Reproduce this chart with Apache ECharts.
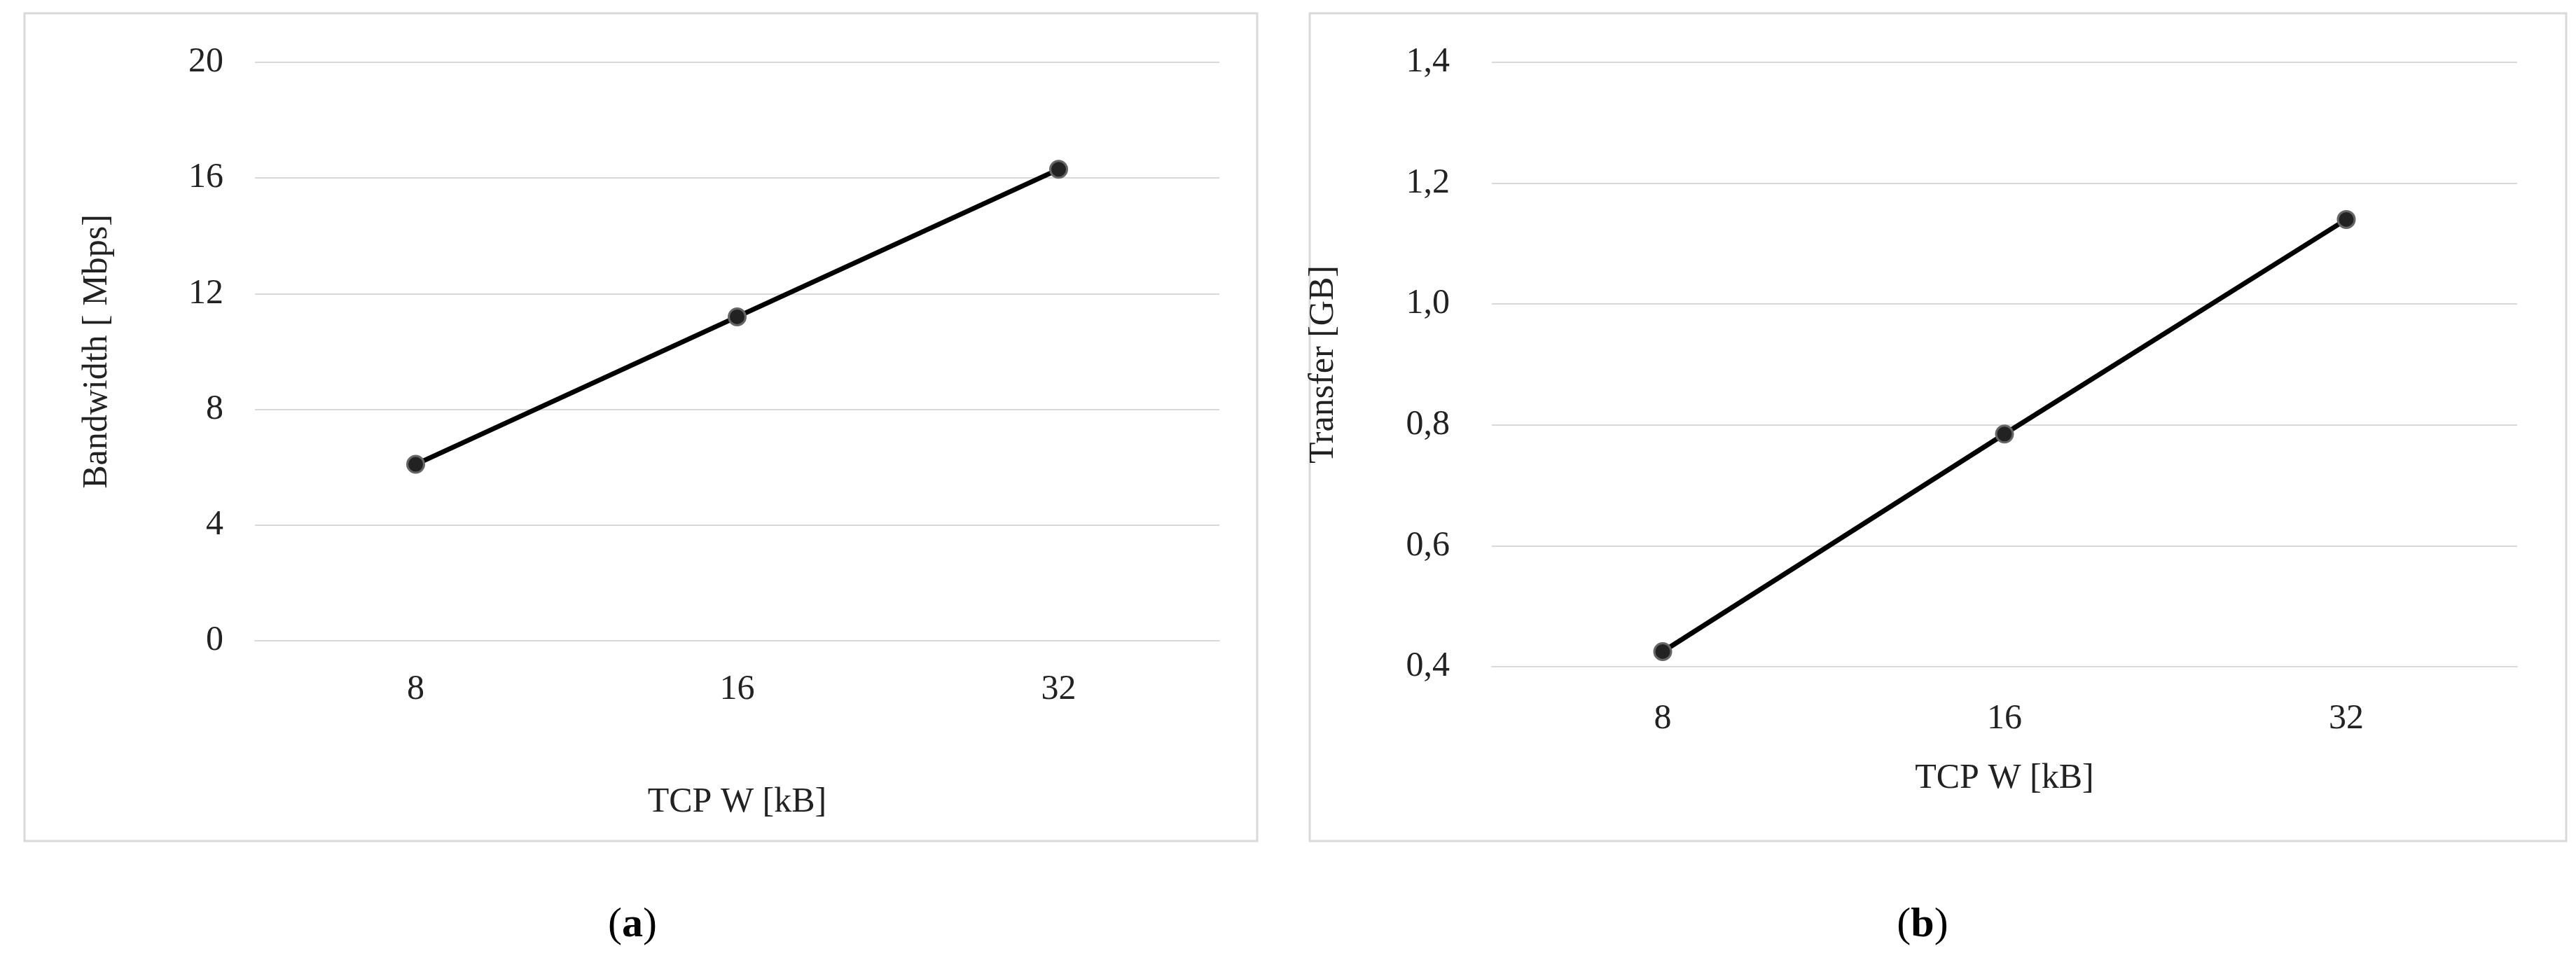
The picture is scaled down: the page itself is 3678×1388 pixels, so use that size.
<!DOCTYPE html>
<html>
<head>
<meta charset="utf-8">
<style>html,body{margin:0;padding:0;background:#fff}#chart{width:3678px;height:1388px}</style>
<script src="https://cdn.jsdelivr.net/npm/echarts@6/dist/echarts.min.js"></script>
</head>
<body>
<div id="chart"></div>
<script>
var categories = ['8', '16', '32'];
var bandwidth = [6.1, 11.2, 16.3];
var transfer = [0.425, 0.785, 1.14];

var font = 'Liberation Serif';
var txt = {fontFamily: font, fontSize: 50, color: '#222'};
var chart = echarts.init(document.getElementById('chart'));

function xAxis(i, gap, margin) {
  return {
    type: 'category', gridIndex: i, data: categories,
    name: 'TCP W [kB]', nameLocation: 'middle', nameGap: gap, nameTextStyle: txt,
    axisLine: {lineStyle: {color: '#d9d9d9', width: 2}}, axisTick: {show: false},
    axisLabel: Object.assign({margin: margin}, txt)
  };
}
function yAxis(i, name, min, max, step, gap, margin, fmt) {
  return {
    type: 'value', gridIndex: i, min: min, max: max, interval: step,
    name: name, nameLocation: 'middle', nameGap: gap, nameTextStyle: txt,
    axisLine: {show: false}, axisTick: {show: false},
    splitLine: {lineStyle: {color: '#d9d9d9', width: 2}},
    axisLabel: Object.assign({margin: margin, formatter: fmt}, txt)
  };
}
function series(i, data) {
  return {
    type: 'line', xAxisIndex: i, yAxisIndex: i, data: data,
    lineStyle: {color: '#000', width: 7}, symbol: 'circle', symbolSize: 24,
    itemStyle: {color: '#222', borderColor: '#666', borderWidth: 3}, silent: true
  };
}
function caption(x, letter) {
  return {type: 'text', x: x, y: 1321, style: {
    text: '({b|' + letter + '})', fontFamily: font, fontSize: 60, fill: '#000',
    align: 'center', verticalAlign: 'middle',
    rich: {b: {fontFamily: font, fontSize: 60, fontWeight: 'bold', fill: '#000'}}
  }};
}

chart.setOption({
  animation: false,
  grid: [
    {left: 364, right: 3678 - 1741, top: 89, bottom: 1388 - 915},
    {left: 2130, right: 3678 - 3594, top: 89, bottom: 1388 - 952}
  ],
  xAxis: [xAxis(0, 206, 45), xAxis(1, 135, 50)],
  yAxis: [
    yAxis(0, 'Bandwidth [ Mbps]', 0, 20, 4, 200, 45, function (v) { return v; }),
    yAxis(1, 'Transfer [GB]', 0.4, 1.4, 0.2, 215, 60, function (v) { return v.toFixed(1).replace('.', ','); })
  ],
  series: [series(0, bandwidth), series(1, transfer)],
  graphic: [
    {type: 'rect', shape: {x: 35, y: 19, width: 1760, height: 1182}, style: {fill: 'none', stroke: '#d9d9d9', lineWidth: 3}},
    {type: 'rect', shape: {x: 1870, y: 19, width: 1794, height: 1182}, style: {fill: 'none', stroke: '#d9d9d9', lineWidth: 3}},
    caption(903, 'a'),
    caption(2745, 'b')
  ]
});
</script>
</body>
</html>
